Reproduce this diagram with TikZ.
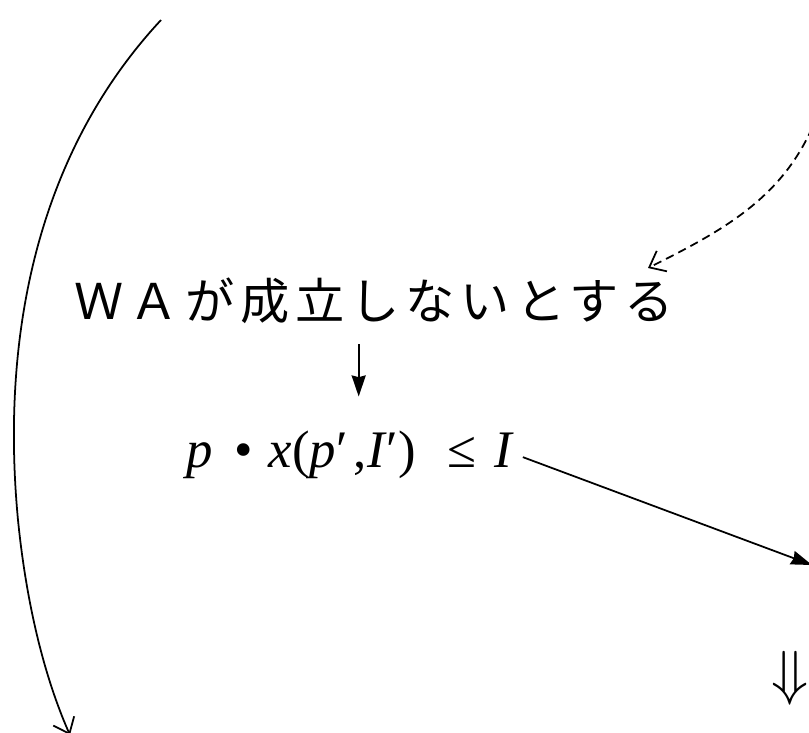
\documentclass[tikz,border=0pt]{standalone}
\usepackage{fontspec}
\usepackage{amsmath, amssymb}
\setmainfont{Liberation Serif}
\newfontfamily\jpfont[LetterSpace=12]{Noto Sans CJK JP}
\usetikzlibrary{arrows.meta}

\tikzset{
  jptext/.style={inner sep=0pt, font=\fontsize{14}{16}\selectfont\jpfont},
  formula/.style={inner sep=0pt, font=\fontsize{15}{17}\selectfont},
  openarrow/.style={-{Straight Barb[length=4pt,width=6.5pt]}},
  solidarrow/.style={-{Stealth[length=6pt,width=4pt,inset=0.5pt]}}
}

\begin{document}
\begin{tikzpicture}[x=0.01cm, y=-0.01cm, >=stealth, line width=0.5pt]
\useasboundingbox (0,0) rectangle (809,732);
\coordinate (topL) at (161,20);
\coordinate (midL) at (18,520);
\coordinate (botL) at (70,735);
\coordinate (topR) at (812,128);
\coordinate (backR) at (648,268);
\coordinate (hitR) at (812,565);

\node[jptext, anchor=base west] (wa) at (74,319) {ＷＡが成立しないとする};
\node[formula, anchor=base west] (ineq) at (186,467)
  {\textit{p}\hspace{0.4em}•\hspace{0.3em}\textit{x}(\textit{p}′\hspace{0.12em},\textit{I}′)\hspace{0.6em}≤\hspace{0.35em}\textit{I}};
\node[inner sep=0pt, font=\fontsize{16}{18}\selectfont] (dn) at (790,678) {$\Downarrow$};

% left curve down
\draw[openarrow] (topL) .. controls (40,150) and (0,330) .. (midL)
  .. controls (28,620) and (50,690) .. (botL);
% dashed curve back to the assumption
\draw[openarrow, dash pattern=on 2.4pt off 1.5pt] (topR) .. controls (780,200) and (720,232) .. (backR);
\draw[solidarrow, shorten <=0.2cm, shorten >=0.33cm] ([xshift=0.08cm]wa.south -| ineq.north) -- ([xshift=0.08cm]ineq.north);
\draw[solidarrow, shorten <=0.08cm] (ineq.east) -- (hitR);
\end{tikzpicture}
\end{document}
